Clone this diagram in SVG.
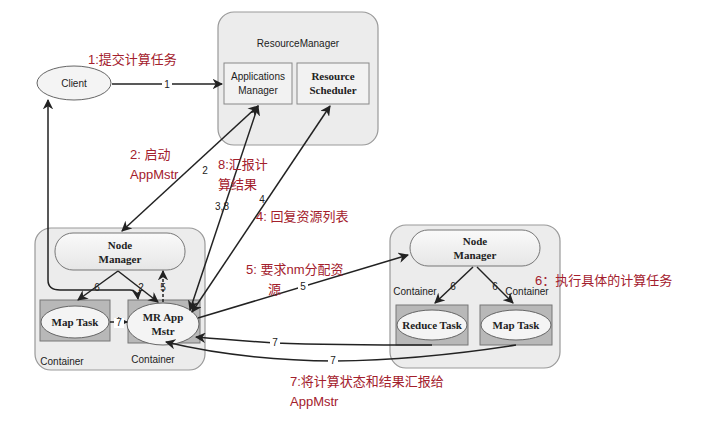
<svg xmlns="http://www.w3.org/2000/svg" width="710" height="422" viewBox="0 0 710 422">
<defs>
<marker id="ah" viewBox="0 0 10 10" refX="9" refY="5" markerWidth="7" markerHeight="7" orient="auto-start-reverse"><path d="M0,0 L10,5 L0,10 L3,5 z" fill="#222"/></marker>
<linearGradient id="g" x1="0" y1="0" x2="0" y2="1"><stop offset="0" stop-color="#fafafa"/><stop offset="1" stop-color="#e6e6e6"/></linearGradient>
</defs>
<style>
.outer{fill:#ececec;stroke:#999;stroke-width:1.2}
.pill{fill:url(#g);stroke:#777;stroke-width:1}
.cont{fill:#b8b8b8;stroke:#777;stroke-width:1}
.ell{fill:#f4f4f4;stroke:#666;stroke-width:1}
.box{fill:#f2f2f2;stroke:#888;stroke-width:1}
.t{font-family:"Liberation Serif",serif;font-size:11px;font-weight:bold;fill:#222;text-anchor:middle}
.s{font-family:"Liberation Sans",sans-serif;font-size:10px;fill:#222;text-anchor:middle}
.r{font-family:"Liberation Sans","Noto Sans CJK SC",sans-serif;font-size:13px;fill:#a3202c}
.ln{fill:none;stroke:#222;stroke-width:1.5}
.n{font-family:"Liberation Sans",sans-serif;font-size:10px;fill:#222;text-anchor:middle}
</style>
<rect x="0" y="0" width="710" height="422" fill="#fff"/>
<g id="rm">
<rect class="outer" x="218" y="12" width="160" height="133" rx="16"/>
<text class="s" x="298" y="47">ResourceManager</text>
</g>
<g id="appmgr"><rect class="box" x="224" y="63" width="68" height="41"/><text class="s" x="258" y="80">Applications</text><text class="s" x="258" y="94">Manager</text></g>
<g id="sched"><rect class="box" x="297" y="63" width="72" height="41"/><text class="t" x="333" y="80">Resource</text><text class="t" x="333" y="94">Scheduler</text></g>
<g id="client"><ellipse class="ell" cx="74" cy="83" rx="37" ry="17"/><text class="s" x="74" y="87">Client</text></g>
<g id="left">
<rect class="outer" x="35" y="228" width="170" height="142" rx="16"/>
<text class="s" x="62" y="365">Container</text><text class="s" x="153" y="363">Container</text>
</g>
<g id="nm1"><rect class="pill" x="55" y="233" width="130" height="37" rx="18"/><text class="t" x="120" y="249">Node</text><text class="t" x="120" y="263">Manager</text></g>
<g id="map1"><rect class="cont" x="40" y="300" width="70" height="41"/><ellipse class="ell" cx="75" cy="322" rx="34" ry="16"/><text class="t" x="75" y="326">Map Task</text></g>
<g id="mr"><rect class="cont" x="128" y="300" width="72" height="43"/><ellipse class="ell" cx="163" cy="324" rx="36" ry="21"/><text class="t" x="163" y="321">MR App</text><text class="t" x="163" y="335">Mstr</text></g>
<g id="right">
<rect class="outer" x="390" y="225" width="170" height="143" rx="16"/>
<text class="s" x="415" y="295">Container</text><text class="s" x="527" y="295">Container</text>
</g>
<g id="nm2"><rect class="pill" x="410" y="230" width="130" height="36" rx="18"/><text class="t" x="475" y="245">Node</text><text class="t" x="475" y="259">Manager</text></g>
<g id="reduce"><rect class="cont" x="396" y="305" width="72" height="40"/><ellipse class="ell" cx="432" cy="325" rx="35" ry="15"/><text class="t" x="432" y="329">Reduce Task</text></g>
<g id="map2"><rect class="cont" x="480" y="305" width="72" height="40"/><ellipse class="ell" cx="516" cy="325" rx="35" ry="15"/><text class="t" x="516" y="329">Map Task</text></g>
<g id="connectors">
<path class="ln" d="M112,84 H222" marker-end="url(#ah)"/>
<path class="ln" d="M48,100 V280 Q48,290 60,290 H130 Q137,290 138,299" marker-start="url(#ah)" marker-end="url(#ah)"/>
<path class="ln" d="M258,106 L122,231" marker-start="url(#ah)" marker-end="url(#ah)"/>
<path class="ln" d="M258,106 L190,310" marker-start="url(#ah)" marker-end="url(#ah)"/>
<path class="ln" d="M330,106 L192,312" marker-start="url(#ah)" marker-end="url(#ah)"/>
<path class="ln" d="M198,318 L408,255" marker-end="url(#ah)"/>
<path class="ln" d="M163,302 V271" stroke-dasharray="3,2" marker-end="url(#ah)"/>
<path class="ln" d="M118,271 L158,302" marker-end="url(#ah)"/>
<path class="ln" d="M118,271 L78,300" marker-end="url(#ah)"/>
<path class="ln" d="M110,322 H127" marker-end="url(#ah)"/>
<path class="ln" d="M473,267 L435,303" marker-end="url(#ah)"/>
<path class="ln" d="M477,267 L513,303" marker-end="url(#ah)"/>
<path class="ln" d="M432,345 Q330,345 275,343 Q230,340 196,337" marker-end="url(#ah)"/>
<path class="ln" d="M516,345 Q420,360 335,361 Q240,360 166,342" marker-end="url(#ah)"/>
<g fill="#fff"><rect x="162" y="79" width="10" height="10"/><rect x="114" y="318" width="10" height="10"/><rect x="270" y="337" width="10" height="10"/><rect x="328" y="356" width="10" height="10"/><rect x="298" y="280" width="10" height="10"/></g>
<text class="n" x="167" y="88">1</text><text class="n" x="119" y="326">7</text><text class="n" x="275" y="346">7</text><text class="n" x="333" y="364">7</text><text class="n" x="303" y="290">5</text>
<text class="n" x="205" y="174">2</text><text class="n" x="222" y="210">3,8</text><text class="n" x="262" y="203">4</text>
<text class="n" x="97" y="291">6</text><text class="n" x="141" y="291">2</text><text class="n" x="163" y="291">5</text>
<text class="n" x="453" y="290">6</text><text class="n" x="495" y="290">6</text>
</g>
<g id="labels">
<text class="r" x="88" y="64">1:提交计算任务</text>
<text class="r" x="130" y="159">2: 启动</text><text class="r" x="130" y="179">AppMstr</text>
<text class="r" x="218" y="169">8:汇报计</text><text class="r" x="218" y="189">算结果</text>
<text class="r" x="256" y="221">4: 回复资源列表</text>
<text class="r" x="246" y="274">5:  要求nm分配资</text><text class="r" x="268" y="294">源</text>
<text class="r" x="535" y="285">6：执行具体的计算任务</text>
<text class="r" x="290" y="386">7:将计算状态和结果汇报给</text><text class="r" x="290" y="406">AppMstr</text>
</g>
</svg>
